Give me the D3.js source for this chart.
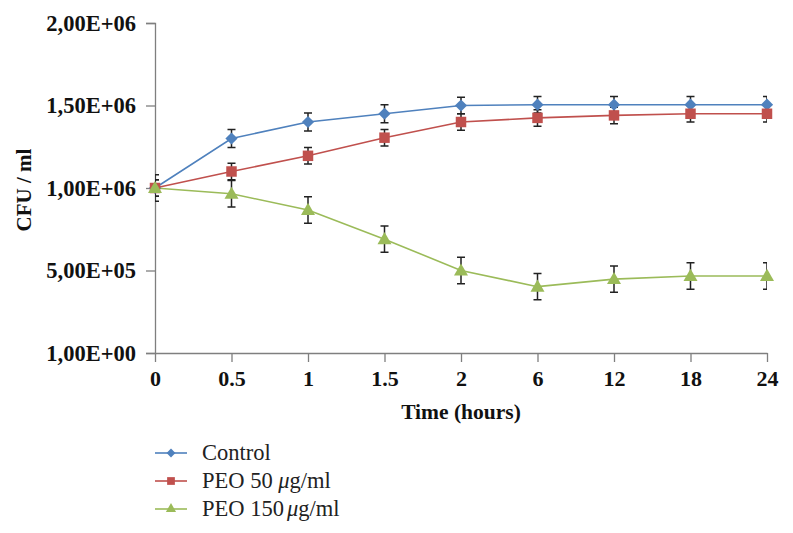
<!DOCTYPE html>
<html><head><meta charset="utf-8">
<script src="https://cdn.jsdelivr.net/npm/d3@7"></script>
<style>body{margin:0;background:#fff}svg{display:block}</style>
</head><body><svg id="c" width="793" height="533"></svg>
<script>
const categories = ["0","0.5","1","1.5","2","6","12","18","24"];
const control    = [1.00e6,1.30e6,1.40e6,1.45e6,1.50e6,1.505e6,1.505e6,1.505e6,1.505e6];
const controlErr = [0.05e6,0.055e6,0.055e6,0.055e6,0.05e6,0.05e6,0.05e6,0.05e6,0.05e6];
const peo50      = [1.00e6,1.10e6,1.195e6,1.305e6,1.40e6,1.425e6,1.44e6,1.45e6,1.45e6];
const peo50Err   = [0.05e6,0.05e6,0.05e6,0.05e6,0.05e6,0.05e6,0.05e6,0.05e6,0.05e6];
const peo150     = [1.00e6,0.965e6,0.867e6,0.69e6,0.50e6,0.402e6,0.448e6,0.467e6,0.467e6];
const peo150Err  = [0.08e6,0.08e6,0.08e6,0.08e6,0.08e6,0.08e6,0.08e6,0.08e6,0.08e6];
const yTickValues = [0,5e5,1e6,1.5e6,2e6];
const yTickLabels = ["1,00E+00","5,00E+05","1,00E+06","1,50E+06","2,00E+06"];

const series = [
  {name:"Control", values:control, err:controlErr, color:"#4f81bd", shape:"diamond"},
  {name:"PEO 50 ", mu:"μ", tail:"g/ml", values:peo50, err:peo50Err, color:"#c0504d", shape:"square"},
  {name:"PEO 150", mu:"μ", muDx:3, tail:"g/ml", values:peo150, err:peo150Err, color:"#9bbb59", shape:"triangle"}
];

const svg = d3.select("#c");
const x = d3.scalePoint().domain(categories).range([155,767]);
const y = d3.scaleLinear().domain([0,2e6]).range([353,23]);
const axisColor = "#7f7f7f";
const serif = "'Liberation Serif','Times New Roman',serif";

svg.append("clipPath").attr("id","pc").append("rect")
  .attr("x",155).attr("y",0).attr("width",612).attr("height",400);

// y axis
const ya = svg.append("g").attr("transform","translate(155,0)")
  .call(d3.axisLeft(y).tickValues(yTickValues).tickSize(9).tickPadding(10)
    .tickFormat((d,i)=>yTickLabels[i]));
ya.select(".domain").attr("stroke",axisColor).attr("stroke-width",1.3);
ya.selectAll(".tick line").attr("stroke",axisColor).attr("stroke-width",1.3);
ya.selectAll(".tick text").attr("font-family",serif).attr("font-weight","bold")
  .attr("font-size",22.5).attr("fill","#111");

// x axis
const xa = svg.append("g").attr("transform","translate(0,353)")
  .call(d3.axisBottom(x).tickSize(9).tickSizeOuter(0).tickPadding(8));
xa.select(".domain").attr("stroke",axisColor).attr("stroke-width",1.3);
xa.selectAll(".tick line").attr("stroke",axisColor).attr("stroke-width",1.3);
xa.selectAll(".tick text").attr("font-family",serif).attr("font-weight","bold")
  .attr("font-size",22).attr("fill","#111");

// axis titles
svg.append("text").attr("x",461).attr("y",419).attr("text-anchor","middle")
  .attr("font-family",serif).attr("font-weight","bold").attr("font-size",21.5)
  .attr("fill","#111").text("Time (hours)");
svg.append("text").attr("transform","translate(31,190) rotate(-90)").attr("text-anchor","middle")
  .attr("font-family",serif).attr("font-weight","bold").attr("font-size",21)
  .attr("fill","#111").text("CFU / ml");

const sym = {
  diamond: d3.symbol().type(d3.symbolDiamond2).size(95)(),
  square: d3.symbol().type(d3.symbolSquare).size(110)(),
  triangle: d3.symbol().type(d3.symbolTriangle).size(85)()
};

const line = d3.line().x((d,i)=>x(categories[i])).y(d=>y(d));

// error bars
const eg = svg.append("g").attr("clip-path","url(#pc)");
series.forEach(s=>{
  s.values.forEach((v,i)=>{
    const cx = x(categories[i]), t = y(v+s.err[i]), b = y(v-s.err[i]);
    eg.append("path").attr("d",`M${cx},${t}V${b}M${cx-4},${t}H${cx+4}M${cx-4},${b}H${cx+4}`)
      .attr("stroke","#222").attr("stroke-width",1.5).attr("fill","none");
  });
});

// lines and markers
series.forEach(s=>{
  svg.append("path").datum(s.values).attr("d",line).attr("fill","none")
    .attr("stroke",s.color).attr("stroke-width",1.6);
});
series.forEach(s=>{
  svg.append("g").selectAll("path").data(s.values).join("path")
    .attr("d",sym[s.shape])
    .attr("transform",(d,i)=>`translate(${x(categories[i])},${y(d)+(s.shape==="triangle"?1:0)})`)
    .attr("fill",s.color);
});

// legend
const legY = [453,481,509];
series.forEach((s,k)=>{
  const g = svg.append("g").attr("transform",`translate(0,${legY[k]})`);
  g.append("line").attr("x1",155).attr("x2",187).attr("stroke",s.color).attr("stroke-width",1.6);
  g.append("path").attr("d",d3.symbol().type(
      s.shape==="diamond"?d3.symbolDiamond2:s.shape==="square"?d3.symbolSquare:d3.symbolTriangle)
      .size(s.shape==="square"?60:s.shape==="diamond"?50:45)())
    .attr("transform","translate(171,0)").attr("fill",s.color);
  const t = g.append("text").attr("x",202).attr("y",7).attr("font-family",serif)
    .attr("font-size",22.5).attr("fill","#222");
  t.append("tspan").text(s.name);
  if (s.mu){
    t.append("tspan").attr("font-style","italic").attr("dx",s.muDx||0).text(s.mu);
    t.append("tspan").text(s.tail);
  }
});
</script></body></html>
